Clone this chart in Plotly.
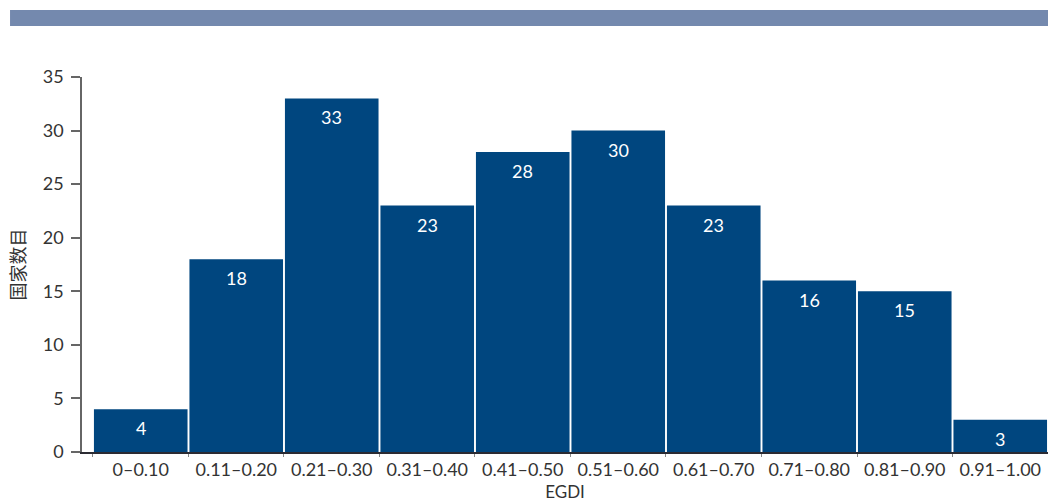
import plotly.graph_objects as go

# EGDI score bands and the number of countries in each band
bands = ["0–0.10", "0.11–0.20", "0.21–0.30", "0.31–0.40", "0.41–0.50",
         "0.51–0.60", "0.61–0.70", "0.71–0.80", "0.81–0.90", "0.91–1.00"]
counts = [4, 18, 33, 23, 28, 30, 23, 16, 15, 3]
y_ticks = [0, 5, 10, 15, 20, 25, 30, 35]

BAR = "#00467f"
FONT = "Lato, 'Noto Sans CJK SC', sans-serif"

fig = go.Figure(go.Bar(
    x=bands, y=counts, marker=dict(color=BAR, line=dict(width=0)),
    hoverinfo="skip",
))

# value labels placed just inside the top of each bar
for b, c in zip(bands, counts):
    fig.add_annotation(x=b, y=c, text=str(c), showarrow=False,
                       yanchor="middle", yshift=-19,
                       font=dict(color="white", size=18, family=FONT))

# header band across the top
fig.add_shape(type="rect", xref="paper", yref="paper",
              x0=-0.0745, x1=1.0, y0=1.136, y1=1.1787,
              fillcolor="#7489ae", line=dict(width=0), layer="above")

fig.update_layout(
    width=1048, height=503,
    margin=dict(l=82, r=0, t=77, b=51),
    paper_bgcolor="white", plot_bgcolor="white",
    bargap=0.02, showlegend=False,
    font=dict(family=FONT, size=18, color="#333"),
    xaxis=dict(
        range=[-0.615, 9.5], showgrid=False, zeroline=False,
        showline=True, linecolor="#2b2b33", linewidth=2,
        ticks="outside", tickson="boundaries", ticklen=3, tickcolor="#888",
        tickfont=dict(size=18, color="#333"),
        title=dict(text="EGDI", standoff=8, font=dict(size=17, color="#333")),
    ),
    yaxis=dict(
        range=[0, 35], tickvals=y_ticks, showgrid=False, zeroline=False,
        showline=True, linecolor="#666", linewidth=1.5,
        ticks="outside", ticklen=9, tickcolor="#666", tickwidth=1.5,
        tickfont=dict(size=18, color="#333"), ticklabelstandoff=4,
        title=dict(text="国家数目", standoff=12,
                   font=dict(size=18, color="#333",
                             family="'Noto Sans CJK SC', sans-serif")),
    ),
)

fig.write_html("out.html")
